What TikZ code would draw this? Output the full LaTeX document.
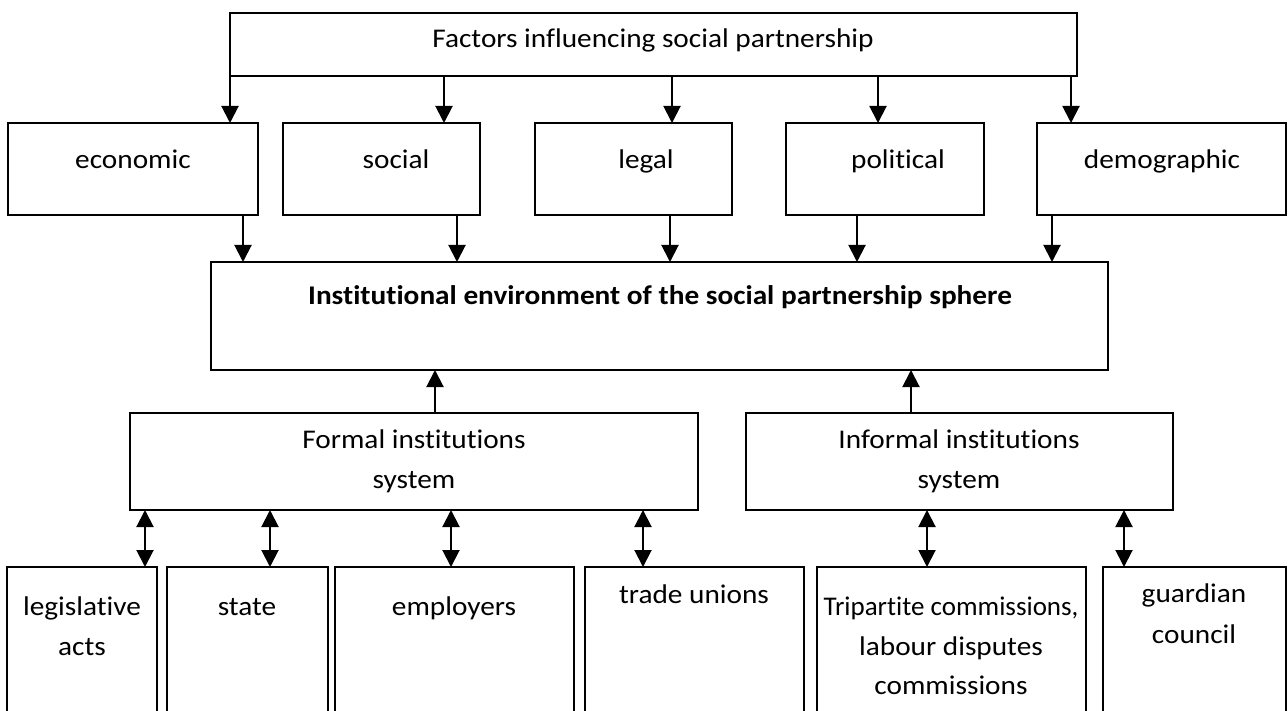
\documentclass[tikz,border=0pt]{standalone}
\usepackage{fontspec}
\setmainfont{Carlito}[Ligatures=NoCommon]
\usetikzlibrary{arrows.meta}
\newcommand\stretchtxt[1]{\scalebox{1.085}[1]{#1}}
\begin{document}
\begin{tikzpicture}[x=1pt,y=-1pt,
  bx/.style={draw,line width=2pt,rectangle,inner sep=0pt,outer sep=0pt,anchor=north west},
  txt/.style={font=\fontsize{27}{40}\selectfont,inner sep=0pt,anchor=base},
  arr/.style={line width=2pt,-{Triangle[width=17pt,length=17pt]}},
  darr/.style={line width=2pt,{Triangle[width=17pt,length=17pt]}-{Triangle[width=17pt,length=17pt]}}]
\clip (0,0) rectangle (1288,711);
\fill[white] (0,0) rectangle (1288,711);
% boxes
\node[bx,minimum width=847pt,minimum height=63pt] (top) at (230,13) {};
\node[bx,minimum width=250pt,minimum height=92pt] (econ) at (8,123) {};
\node[bx,minimum width=197pt,minimum height=92pt] (soc) at (283,123) {};
\node[bx,minimum width=197pt,minimum height=92pt] (leg) at (535,123) {};
\node[bx,minimum width=198pt,minimum height=92pt] (pol) at (786,123) {};
\node[bx,minimum width=249pt,minimum height=92pt] (dem) at (1037,123) {};
\node[bx,minimum width=897pt,minimum height=108pt] (inst) at (211,262) {};
\node[bx,minimum width=568pt,minimum height=97pt] (formal) at (130,413) {};
\node[bx,minimum width=427pt,minimum height=97pt] (informal) at (746,413) {};
\node[bx,minimum width=150pt,minimum height=200pt] (acts) at (7,567) {};
\node[bx,minimum width=161pt,minimum height=200pt] (state) at (167,567) {};
\node[bx,minimum width=239pt,minimum height=200pt] (emp) at (335,567) {};
\node[bx,minimum width=219pt,minimum height=200pt] (trade) at (585,567) {};
\node[bx,minimum width=269pt,minimum height=200pt] (tri) at (817,567) {};
\node[bx,minimum width=183pt,minimum height=200pt] (guard) at (1103,567) {};
% texts
\node[txt] (ttop) at (653,48) {\stretchtxt{Factors influencing social partnership}};
\node[txt] (tecon) at (133,169) {\stretchtxt{economic}};
\node[txt] (tsoc) at (396,169) {\stretchtxt{social}};
\node[txt] (tleg) at (646,169) {\stretchtxt{legal}};
\node[txt] (tpol) at (898,169) {\stretchtxt{political}};
\node[txt] (tdem) at (1162,169) {\stretchtxt{demographic}};
\node[txt,font=\fontsize{27}{40}\selectfont\bfseries] (tinst) at (660,305) {\stretchtxt{Institutional environment of the social partnership sphere}};
\node[txt] (tformal1) at (414,448) {\stretchtxt{Formal institutions}};
\node[txt] (tformal2) at (414,488) {\stretchtxt{system}};
\node[txt] (tinformal1) at (959,448) {\stretchtxt{Informal institutions}};
\node[txt] (tinformal2) at (959,488) {\stretchtxt{system}};
\node[txt] (tacts1) at (82,615) {\stretchtxt{legislative}};
\node[txt] (tacts2) at (82,655) {\stretchtxt{acts}};
\node[txt] (tstate) at (247,615) {\stretchtxt{state}};
\node[txt] (temp) at (454,615) {\stretchtxt{employers}};
\node[txt] (ttrade) at (694,603) {\stretchtxt{trade unions}};
\node[txt] (ttri1) at (951,615) {Tripartite commissions,};
\node[txt] (ttri2) at (951,655) {\stretchtxt{labour disputes}};
\node[txt] (ttri3) at (951,694) {\stretchtxt{commissions}};
\node[txt] (tguard1) at (1194,602) {\stretchtxt{guardian}};
\node[txt] (tguard2) at (1194,643) {\stretchtxt{council}};
% arrow columns
\foreach \n/\x in {a1/230,a2/444,a3/672,a4/878,a5/1071,b1/243,b2/457,b3/670,b4/857,b5/1052,u1/435,u2/911,d1/145,d2/270,d3/451,d4/643,d5/927,d6/1124}
  \coordinate (\n) at (\x,0);
% top to factors
\draw[arr] (top.south -| a1) -- (econ.north -| a1);
\draw[arr] (top.south -| a2) -- (soc.north -| a2);
\draw[arr] (top.south -| a3) -- (leg.north -| a3);
\draw[arr] (top.south -| a4) -- (pol.north -| a4);
\draw[arr] (top.south -| a5) -- (dem.north -| a5);
% factors to institutional
\draw[arr] (econ.south -| b1) -- (inst.north -| b1);
\draw[arr] (soc.south -| b2) -- (inst.north -| b2);
\draw[arr] (leg.south -| b3) -- (inst.north -| b3);
\draw[arr] (pol.south -| b4) -- (inst.north -| b4);
\draw[arr] (dem.south -| b5) -- (inst.north -| b5);
% systems to institutional
\draw[arr] (formal.north -| u1) -- (inst.south -| u1);
\draw[arr] (informal.north -| u2) -- (inst.south -| u2);
% double arrows
\draw[darr] (formal.south -| d1) -- (acts.north -| d1);
\draw[darr] (formal.south -| d2) -- (state.north -| d2);
\draw[darr] (formal.south -| d3) -- (emp.north -| d3);
\draw[darr] (formal.south -| d4) -- (trade.north -| d4);
\draw[darr] (informal.south -| d5) -- (tri.north -| d5);
\draw[darr] (informal.south -| d6) -- (guard.north -| d6);
\end{tikzpicture}
\end{document}
